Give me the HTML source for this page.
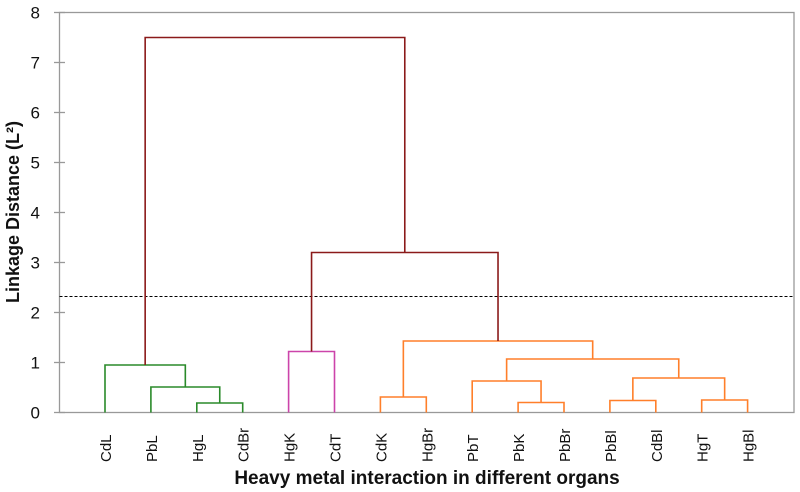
<!DOCTYPE html>
<html><head><meta charset="utf-8"><style>
html,body{margin:0;padding:0;background:#fff;width:800px;height:492px;overflow:hidden}
svg{display:block}
text{font-family:"Liberation Sans",sans-serif;fill:#111}
</style></head><body>
<svg id="chart" width="800" height="492" viewBox="0 0 800 492"></svg>
<script>
const leaves = ["CdL","PbL","HgL","CdBr","HgK","CdT","CdK","HgBr","PbT","PbK","PbBr","PbBl","CdBl","HgT","HgBl"];
// merges: [leftChild, rightChild, height, color]; children: leaf index (number) or "n"+mergeIndex
const mergeLeft = [2, 1, 0, 4, 6, 9, 8, 11, 13, "n7", "n6", "n10", "n11", "n2", "n12"];
const mergeRight = [3, "n0", "n1", 5, 7, 10, "n5", 12, 14, "n8", "n9", "n4", "n3", "n13", "n14"];
const mergeHeight = [0.19, 0.51, 0.95, 1.22, 0.31, 0.20, 0.63, 0.24, 0.25, 0.69, 1.07, 1.43, 3.2, 7.5, 0];
const mergeColor = ["#2a8a2a","#2a8a2a","#2a8a2a","#cc44aa","#ff7f2a","#ff7f2a","#ff7f2a","#ff7f2a","#ff7f2a","#ff7f2a","#ff7f2a","#ff7f2a","#8b1a1a","#8b1a1a"];
const yTicks = [0,1,2,3,4,5,6,7,8];
const cutHeight = 2.32;
// fix: last merge entry is the root (n12 + n2)
mergeLeft.length = 14; mergeRight.length = 14; mergeHeight.length = 14;
mergeLeft[12] = "n11"; mergeRight[12] = "n3";
mergeLeft[13] = "n2"; mergeRight[13] = "n12";

const NS = "http://www.w3.org/2000/svg";
const svg = document.getElementById("chart");
const X0 = 59.5, X1 = 794, Y0 = 412.5, Y8 = 12.5;
const y = v => Y0 - (Y0 - Y8) * v / 8;
const x = i => 105 + i * 45.9;
function el(tag, attrs){const e=document.createElementNS(NS,tag);for(const k in attrs)e.setAttribute(k,attrs[k]);svg.appendChild(e);return e;}

// frame
const frame = el("rect",{x:X0,y:Y8,width:X1-X0,height:Y0-Y8,fill:"none",stroke:"#999","stroke-width":1.3});


yTicks.forEach(t=>{
  const tk = el("line",{x1:54,x2:65,y1:y(t),y2:y(t),stroke:"#999","stroke-width":1.3});
  
  
  const lb = el("text",{x:40,y:y(t)+6,"font-size":17,"text-anchor":"end"});
  lb.textContent = t;
  
  
});
// cut line
const cut = el("line",{x1:X0,x2:X1,y1:y(cutHeight),y2:y(cutHeight),stroke:"#000","stroke-width":1,"stroke-dasharray":"3,2"});



// nodes
const pos = [];
function node(c){ if(typeof c==="number") return {x:x(c),h:0}; return pos[+c.slice(1)]; }
for(let i=0;i<mergeLeft.length;i++){
  const a=node(mergeLeft[i]), b=node(mergeRight[i]), h=mergeHeight[i];
  pos[i]={x:(a.x+b.x)/2,h:h};
  const p = el("path",{d:`M${a.x},${y(a.h)}V${y(h)}H${b.x}V${y(b.h)}`,fill:"none",stroke:mergeColor[i],"stroke-width":1.6});
  
  
}
// leaf labels
leaves.forEach((l,i)=>{
  const t = el("text",{transform:`translate(${x(i)+6},462) rotate(-90)`,"font-size":15});
  t.textContent = l;
  
  
});
const xt = el("text",{x:427,y:484,"font-size":19,"font-weight":"bold","text-anchor":"middle"});
xt.textContent = "Heavy metal interaction in different organs";


const yt = el("text",{transform:"translate(19,212) rotate(-90)","font-size":18,"font-weight":"bold","text-anchor":"middle"});
yt.textContent = "Linkage Distance (L²)";


</script>
</body></html>
